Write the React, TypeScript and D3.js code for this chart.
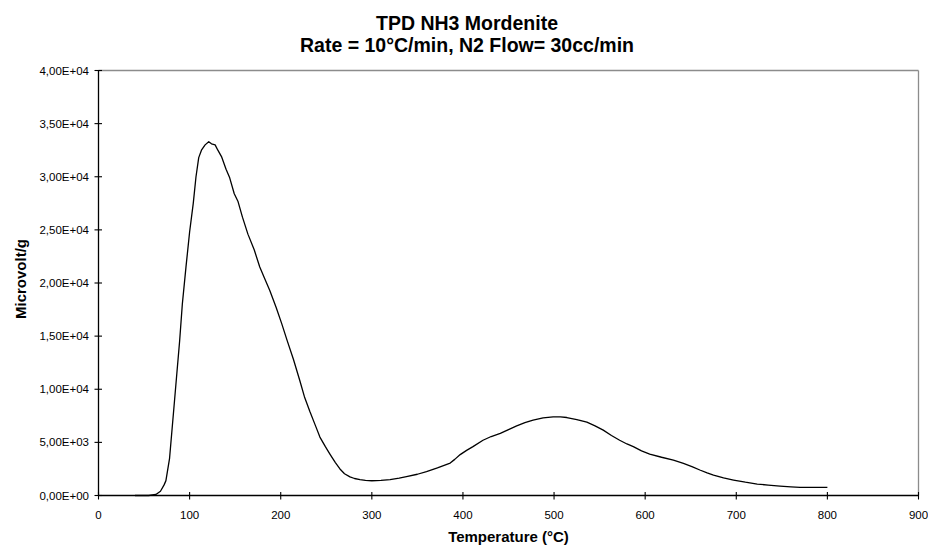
import React from 'react';
import { scaleLinear, line, range } from 'd3';

// TPD NH3 desorption trace
const temps = [
  40, 55, 63, 68, 72, 74, 78, 80, 83, 86, 89, 92, 96, 100, 104, 107, 110, 113, 117, 121,
  124, 128, 131, 135, 140, 144, 149, 153, 158, 164, 171, 177, 182, 188, 195, 201, 207, 214,
  221, 226, 232, 238, 243, 249, 254, 260, 265, 270, 276, 281, 287, 293, 300, 310, 320, 330,
  338, 350, 360, 372, 386, 391, 397, 404, 411, 422, 431, 441, 450, 459, 468, 477, 488, 499,
  507, 514, 525, 536, 545, 554, 563, 572, 580, 587, 596, 605, 618, 631, 642, 652, 660, 668,
  675, 686, 697, 710, 723, 735, 748, 760, 770, 785, 800,
];
const signal = [
  0, 0, 100, 400, 1000, 1400, 3500, 5500, 8500, 11500, 14500, 18000, 21500, 24800, 27500,
  30000, 31800, 32500, 33000, 33300, 33100, 33000, 32500, 31900, 30700, 29900, 28400, 27700,
  26200, 24600, 23100, 21500, 20500, 19300, 17700, 16200, 14600, 12800, 10800, 9300, 7900,
  6600, 5500, 4600, 3900, 3100, 2500, 2050, 1750, 1600, 1500, 1430, 1390, 1420, 1500, 1630,
  1770, 2000, 2250, 2600, 3050, 3400, 3850, 4250, 4600, 5200, 5550, 5850, 6200, 6550, 6850,
  7100, 7300, 7400, 7400, 7340, 7150, 6900, 6550, 6150, 5650, 5200, 4850, 4600, 4200, 3900,
  3600, 3330, 3020, 2700, 2400, 2120, 1920, 1650, 1455, 1250, 1080, 980, 890, 820, 770, 760,
  760,
];
const xTicks = range(0, 901, 100);
const yTicks = range(0, 40001, 5000);
const titleLines = ['TPD NH3 Mordenite', 'Rate = 10°C/min, N2 Flow= 30cc/min'];

const W = 928;
const H = 547;
const plot = { left: 98.5, right: 918.5, top: 70.5, bottom: 495.5 };
const font = '"Liberation Sans", Arial, sans-serif';

const sci = (v: number) => {
  if (v === 0) return '0,00E+00';
  const e = Math.floor(Math.log10(v));
  const m = v / Math.pow(10, e);
  return `${m.toFixed(2).replace('.', ',')}E+${String(e).padStart(2, '0')}`;
};

const App = () => {
  const x = scaleLinear().domain([0, 900]).range([plot.left, plot.right]);
  const y = scaleLinear().domain([0, 40000]).range([plot.bottom, plot.top]);
  const pts = temps.map((t, i) => [t, signal[i]] as [number, number]);
  const path = line<[number, number]>()
    .x(d => x(d[0]))
    .y(d => y(d[1]))(pts);

  return (
    <div style={{ position: 'absolute', left: 0, top: 0 }}>
      <svg width={W} height={H} style={{ display: 'block', background: '#fff' }}>
        {/* frame: grey top/right, black axes */}
        <line x1={plot.left} x2={plot.right} y1={plot.top} y2={plot.top} stroke="#8c8c8c" strokeWidth={1.3} />
        <line x1={plot.right} x2={plot.right} y1={plot.top} y2={plot.bottom} stroke="#8c8c8c" strokeWidth={1.3} />

        <path d={path || ''} fill="none" stroke="#000" strokeWidth={1.3} strokeLinejoin="round" />

        <line x1={plot.left} x2={plot.left} y1={plot.top} y2={plot.bottom} stroke="#000" strokeWidth={1.3} />
        <line x1={plot.left} x2={plot.right} y1={plot.bottom} y2={plot.bottom} stroke="#000" strokeWidth={1.3} />

        {yTicks.map(t => (
          <g key={'y' + t}>
            <line x1={plot.left - 4} x2={plot.left + 3.5} y1={y(t)} y2={y(t)} stroke="#000" strokeWidth={1.1} />
            <text x={89} y={y(t) + 4} textAnchor="end" fontFamily={font} fontSize={11.5} fill="#000">
              {sci(t)}
            </text>
          </g>
        ))}

        {xTicks.map(t => (
          <g key={'x' + t}>
            <line x1={x(t)} x2={x(t)} y1={plot.bottom - 3.5} y2={plot.bottom + 4} stroke="#000" strokeWidth={1.1} />
            <text x={x(t)} y={518.5} textAnchor="middle" fontFamily={font} fontSize={11.5} fill="#000">
              {t}
            </text>
          </g>
        ))}

        {titleLines.map((s, i) => (
          <text key={s} x={467} y={30 + i * 21.5} textAnchor="middle" fontFamily={font}
            fontWeight="bold" fontSize={19.5} fill="#000">
            {s}
          </text>
        ))}

        <text x={(plot.left + plot.right) / 2} y={542} textAnchor="middle" fontFamily={font}
          fontWeight="bold" fontSize={15} fill="#000">
          Temperature (°C)
        </text>
        <text transform={`translate(26,279) rotate(-90)`} textAnchor="middle" fontFamily={font}
          fontWeight="bold" fontSize={15} fill="#000">
          Microvolt/g
        </text>
      </svg>
    </div>
  );
};

export default App;
